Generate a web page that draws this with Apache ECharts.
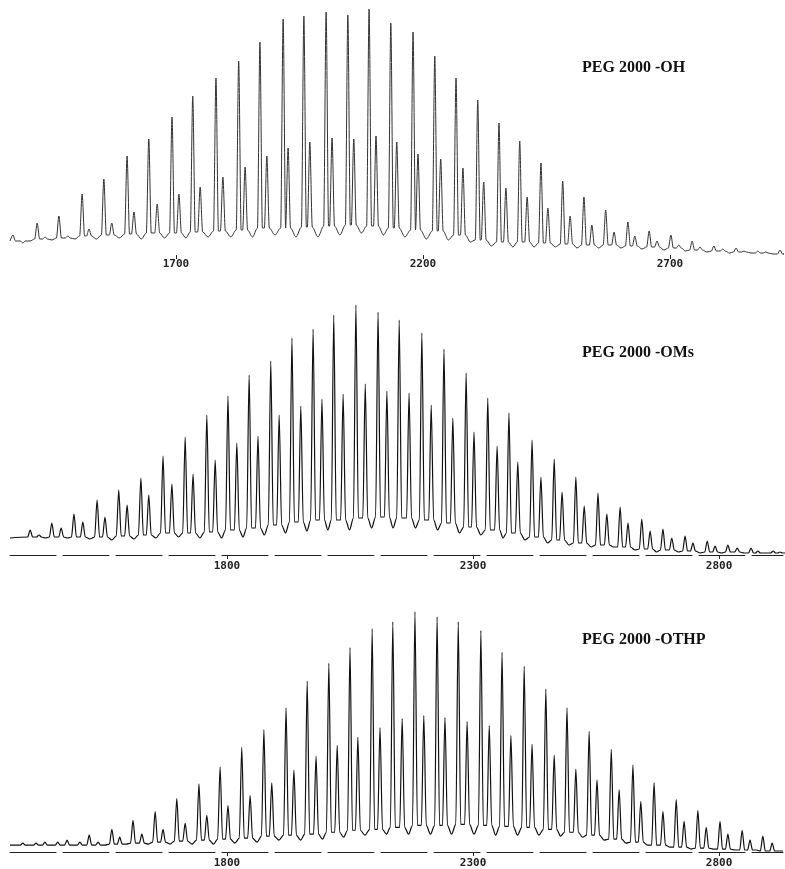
<!DOCTYPE html>
<html>
<head>
<meta charset="utf-8">
<script src="https://cdn.jsdelivr.net/npm/echarts@6.0.0/dist/echarts.min.js"></script>
<style>
html,body{margin:0;padding:0;background:#fff;}
#chart{width:785px;height:869px;}
</style>
</head>
<body>
<div id="chart"></div>
<script>
// ---------- Panel titles ----------
const panelTitles = ['PEG 2000 -OH', 'PEG 2000 -OMs', 'PEG 2000 -OTHP'];

// ---------- Tick labels (m/z) ----------
const ticksOH = [1700, 2200, 2700];
const ticksOMs = [1800, 2300, 2800];
const ticksOTHP = [1800, 2300, 2800];

// ---------- PEG 2000 -OH ----------
const ohMajorMz = [1370,1419,1463,1510,1554,1601,1645,1692,1734,1781,1827,1870,1917,1959,2004,2048,2091,2135,2180,2224,2267,2311,2354,2396,2439,2483,2526,2570,2615,2658,2702,2745,2789,2834,2878,2923];
const ohMajor   = [20,32,39,61,76,99,116,138,159,177,194,213,236,239,243,240,246,232,223,199,177,155,132,114,92,74,58,45,33,24,20,14,9,7,4,5];
const ohMinorMz = [1390,1435,1481,1524,1570,1615,1662,1706,1749,1795,1840,1884,1927,1971,2016,2060,2105,2147,2190,2236,2281,2323,2368,2411,2453,2498,2542,2587,2629,2674,2718,2761,2807,2850,2894,2938];
const ohMinor   = [12,18,19,26,32,43,51,61,68,78,88,99,107,113,117,116,119,113,101,96,87,73,67,58,47,39,30,23,19,14,10,8,6,4,3,2];
const ohMid     = [14,16,17,19,20,21,22,22,23,24,25,27,27,28,29,30,29,27,25,24,20,15,13,13,12,11,10,10,9,8,7,5,4,3,2,1];
const ohValley  = [14,15,16,16,17,16,17,17,18,18,18,20,18,18,20,22,20,18,16,15,13,9,8,8,8,7,7,7,6,5,4,3,2,2,1,1];

// ---------- PEG 2000 -OMs ----------
const omsMajorMz = [1400,1444,1489,1536,1580,1625,1670,1715,1759,1802,1845,1889,1932,1975,2017,2062,2107,2150,2196,2241,2286,2330,2373,2420,2465,2509,2554,2599,2643,2686,2731,2776,2818,2865,2910];
const omsMajor   = [25,32,41,55,65,77,99,118,140,159,180,194,217,226,240,250,243,235,222,206,182,157,142,115,96,78,62,48,36,26,19,14,10,7,4];
const omsMinorMz = [1418,1463,1507,1552,1597,1641,1688,1731,1776,1820,1863,1906,1950,1993,2036,2081,2125,2170,2215,2259,2302,2349,2391,2438,2481,2526,2572,2615,2660,2704,2747,2792,2837,2879,2924];
const omsMinor   = [20,27,33,38,50,60,71,81,95,112,119,140,149,156,161,171,164,162,150,137,123,109,93,78,63,49,41,32,24,17,12,9,7,4,3];
const omsMid     = [18,18,18,18,19,20,22,22,23,25,27,30,33,35,35,37,38,37,35,32,28,25,22,18,15,12,10,8,6,5,4,3,3,2,2];
const omsValley  = [17,17,16,15,16,17,18,17,17,18,20,22,24,25,25,27,27,27,25,22,20,17,15,12,10,8,8,5,3,3,2,2,2,2,2];

// ---------- PEG 2000 -OTHP ----------
const othpMajorMz = [1385,1430,1475,1520,1566,1609,1654,1698,1743,1786,1830,1875,1920,1963,2007,2050,2095,2137,2182,2227,2270,2316,2359,2404,2448,2491,2536,2581,2625,2668,2713,2757,2802,2847,2889];
const othpMajor   = [9,10,12,17,23,32,41,54,69,86,106,124,146,173,191,207,226,233,243,238,233,224,202,188,165,146,122,104,88,70,53,42,31,22,16];
const othpMinorMz = [1412,1456,1501,1538,1582,1627,1670,1715,1759,1802,1847,1891,1936,1981,2024,2066,2111,2156,2200,2243,2288,2333,2377,2420,2465,2509,2552,2597,2641,2686,2729,2774,2818,2863,2908];
const othpMinor   = [9,10,10,10,15,18,23,29,37,47,57,70,83,97,108,116,126,135,138,136,132,128,118,109,98,84,73,63,51,41,31,25,18,12,9];
const othpMid     = [7,7,7,7,8,9,10,11,12,13,14,16,17,18,20,22,23,25,27,27,28,27,26,25,23,20,17,13,10,7,5,4,3,2,1];
const othpValley  = [7,7,7,7,8,8,8,8,8,9,10,12,12,13,15,17,18,18,18,18,18,17,17,17,16,15,12,9,7,5,3,3,2,2,1];

// half base width of a drawn peak, in m/z units (drawing style)
const PEAK_HALF = 5;

// build the trace: peaks rise from the read dip level of their pair,
// and each gap between pairs goes down to the read valley level
function trace(majMz, maj, minMz, min, mid, valley, xmin, xmax) {
  const w = PEAK_HALF;
  const n = majMz.length;
  const pts = [[xmin, valley[0]]];
  for (let i = 0; i < n; i++) {
    pts.push([majMz[i] - w, mid[i]]);
    pts.push([majMz[i], maj[i]]);
    pts.push([majMz[i] + w, mid[i]]);
    pts.push([minMz[i] - w, mid[i]]);
    pts.push([minMz[i], min[i]]);
    pts.push([minMz[i] + w, mid[i]]);
    const nxt = i + 1 < n ? majMz[i + 1] : minMz[i] + 28;
    pts.push([(minMz[i] + nxt) / 2, valley[i]]);
  }
  pts.push([xmax, valley[n - 1]]);
  return pts;
}

const ranges = [[1364, 2929], [1359, 2930], [1359, 2930]];
const tickSets = [ticksOH, ticksOMs, ticksOTHP];
const traces = [
  trace(ohMajorMz, ohMajor, ohMinorMz, ohMinor, ohMid, ohValley, ranges[0][0], ranges[0][1]),
  trace(omsMajorMz, omsMajor, omsMinorMz, omsMinor, omsMid, omsValley, ranges[1][0], ranges[1][1]),
  trace(othpMajorMz, othpMajor, othpMinorMz, othpMinor, othpMid, othpValley, ranges[2][0], ranges[2][1])
];
const tops = [5, 305, 605];
const titleY = [68, 353, 640];
const lineColors = ['#333333', '#111111', '#111111'];
const lineWidths = [1, 1.2, 1.2];

const chart = echarts.init(document.getElementById('chart'), null, {renderer: 'canvas'});
const grids = [], xAxes = [], yAxes = [], series = [], graphics = [];
for (let p = 0; p < 3; p++) {
  grids.push({left: 10, width: 773, top: tops[p], height: 250, containLabel: false});
  xAxes.push({
    type: 'value', gridIndex: p, min: ranges[p][0], max: ranges[p][1],
    axisLine: {show: p > 0, lineStyle: {color: '#222', width: 1, type: [46, 7]}},
    axisTick: {show: true, customValues: tickSets[p], length: 4, inside: false, lineStyle: {color: '#222', width: 1}},
    axisLabel: {
      customValues: tickSets[p], margin: p === 0 ? 4 : 6,
      formatter: function (v) { return String(v); },
      fontFamily: 'DejaVu Sans Mono', fontWeight: 'bold', fontSize: 11, color: '#222'
    },
    splitLine: {show: false}
  });
  yAxes.push({type: 'value', gridIndex: p, min: 0, max: 250, show: false});
  series.push({
    type: 'line', xAxisIndex: p, yAxisIndex: p, data: traces[p],
    showSymbol: false, symbol: 'none', clip: true,
    smooth: 0.3, smoothMonotone: 'x',
    lineStyle: {color: lineColors[p], width: lineWidths[p]},
    silent: true, animation: false
  });
  graphics.push({
    type: 'text', x: 582, y: titleY[p],
    style: {text: panelTitles[p], font: 'bold 16px "Liberation Serif"', fill: '#111', verticalAlign: 'middle'}
  });
}
chart.setOption({
  animation: false,
  grid: grids, xAxis: xAxes, yAxis: yAxes, series: series, graphic: graphics
});
</script>
</body>
</html>
